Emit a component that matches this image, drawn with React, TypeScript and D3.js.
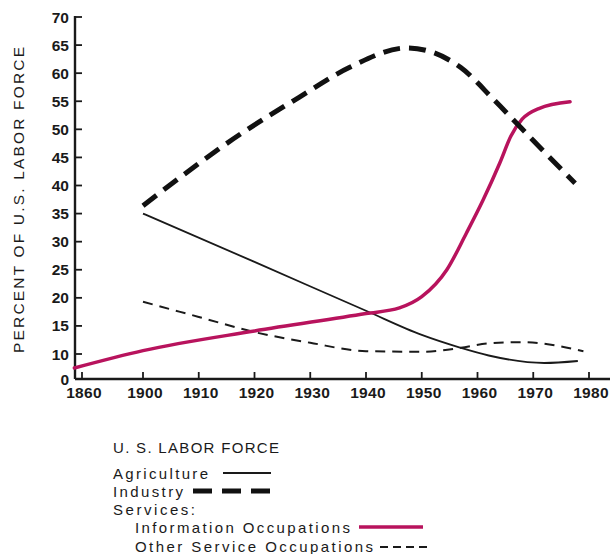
import * as d3 from "d3";

// values (percent of U.S. labor force)
const agricultureYears = [1900, 1920, 1940, 1950, 1957, 1962, 1972, 1978];
const agricultureValues = [35, 26.4, 17.7, 13.4, 11.1, 9.4, 6.4, 7.2];

const industryYears = [1900, 1918, 1928, 1937, 1947.4, 1957, 1963, 1970, 1977.5];
const industryValues = [36.4, 49.5, 55.7, 61, 64.5, 61, 55.2, 48, 40.4];

const infoYears = [1855, 1900, 1920, 1940, 1946, 1950, 1954.5, 1958, 1961, 1964, 1966, 1968, 1971, 1976.6];
const infoValues = [4.4, 10.6, 14.1, 17.2, 18.2, 20.2, 25, 31.5, 37.4, 44, 48.8, 51.8, 53.7, 54.9];

const otherYears = [1900, 1910, 1920, 1930, 1940, 1950, 1957, 1962, 1968, 1979];
const otherValues = [19.3, 16.6, 13.9, 12, 10.5, 10.4, 11.1, 11.9, 12.1, 10.5];

const yTicks = [0, 10, 15, 20, 25, 30, 35, 40, 45, 50, 55, 60, 65, 70];
const xTicks = [1860, 1900, 1910, 1920, 1930, 1940, 1950, 1960, 1970, 1980];

const INFO_COLOR = "#b8135d";
const INK = "#1a1a1a";

type Pt = [number, number];
const zip = (xs: number[], ys: number[]): Pt[] => xs.map((x, i) => [x, ys[i]]);

export default function App() {
  const W = 612;
  const H = 554;
  const axisX = 75;
  const axisY = 379;

  // both axes are broken at the low end (1860 and 0 sit close to the next tick)
  const x = d3.scaleLinear().domain([1860, 1900, 1980]).range([82, 143, 589]);
  const y = d3.scaleLinear().domain([0, 10, 70]).range([axisY, 354, 17]);

  const line = d3
    .line<Pt>()
    .x((d) => x(d[0]))
    .y((d) => y(d[1]))
    .curve(d3.curveMonotoneX);

  const font = "'Liberation Sans', Arial, sans-serif";

  return (
    <svg
      width={W}
      height={H}
      viewBox={`0 0 ${W} ${H}`}
      style={{ position: "absolute", left: 0, top: 0, background: "#fff" }}
    >
      {/* axis title */}
      <text
        transform={`translate(24,200) rotate(-90)`}
        textAnchor="middle"
        fontFamily={font}
        fontSize={15.5}
        fill={INK}
        textLength={306}
        lengthAdjust="spacing"
      >
        PERCENT OF U.S. LABOR FORCE
      </text>

      {/* axes */}
      <g stroke={INK} strokeWidth={2.4} fill="none">
        <line x1={axisX} y1={16} x2={axisX} y2={axisY} />
        <line x1={axisX} y1={axisY} x2={610} y2={axisY} />
        {yTicks.filter((t) => t > 0).map((t) => (
          <line key={t} x1={axisX} x2={axisX + 7} y1={y(t)} y2={y(t)} strokeWidth={1.8} />
        ))}
        {xTicks.map((t) => (
          <line key={t} x1={x(t)} x2={x(t)} y1={axisY} y2={axisY - 7} strokeWidth={1.8} />
        ))}
      </g>
      <g fontFamily={font} fontWeight="bold" fontSize={15.5} fill={INK}>
        {yTicks.map((t) => (
          <text key={t} x={69} y={y(t)} dy="0.36em" textAnchor="end">
            {t}
          </text>
        ))}
        {xTicks.map((t) => (
          <text key={t} x={x(t) + 2} y={398} textAnchor="middle" letterSpacing={0.3}>
            {t}
          </text>
        ))}
      </g>

      {/* series */}
      <g fill="none" strokeLinecap="butt">
        <path d={line(zip(otherYears, otherValues)) ?? ""} stroke={INK} strokeWidth={2} strokeDasharray="10 7" />
        <path d={line(zip(agricultureYears, agricultureValues)) ?? ""} stroke={INK} strokeWidth={1.8} />
        <path d={line(zip(infoYears, infoValues)) ?? ""} stroke={INFO_COLOR} strokeWidth={3.5} strokeLinecap="round" />
        <path d={line(zip(industryYears, industryValues)) ?? ""} stroke="#111" strokeWidth={5} strokeDasharray="17 9" />
      </g>

      {/* legend */}
      <g fontFamily={font} fontSize={15} fill={INK}>
        <text x={113} y={453} textLength={166} lengthAdjust="spacing">U. S. LABOR FORCE</text>
        <text x={113} y={479} textLength={95} lengthAdjust="spacing">Agriculture</text>
        <line x1={223} x2={271} y1={473} y2={473} stroke={INK} strokeWidth={1.8} />
        <text x={113} y={497} textLength={70} lengthAdjust="spacing">Industry</text>
        <line x1={193} x2={271} y1={491} y2={491} stroke="#111" strokeWidth={5} strokeDasharray="19 10" />
        <text x={113} y={515} textLength={82} lengthAdjust="spacing">Services:</text>
        <text x={135} y={533} textLength={215} lengthAdjust="spacing">Information Occupations</text>
        <line x1={359} x2={423} y1={527} y2={527} stroke={INFO_COLOR} strokeWidth={3.5} />
        <text x={135} y={552} textLength={238} lengthAdjust="spacing">Other Service Occupations</text>
        <line x1={380} x2={427} y1={547} y2={547} stroke={INK} strokeWidth={2.2} strokeDasharray="8 5" />
      </g>
    </svg>
  );
}
